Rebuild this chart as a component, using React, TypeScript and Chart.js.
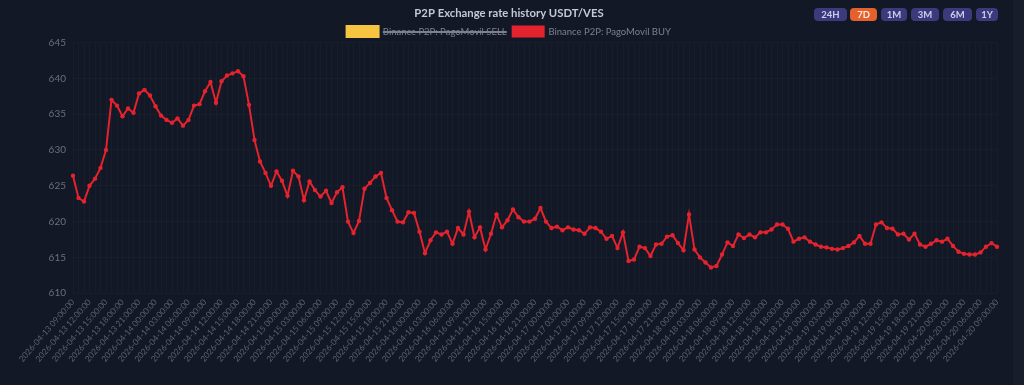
import React, { useEffect, useRef } from "react";
import { Chart, registerables } from "chart.js";

Chart.register(...registerables);

const chartTitle = "P2P Exchange rate history USDT/VES";
const sellLabel = "Binance P2P: PagoMovil SELL";
const buyLabel = "Binance P2P: PagoMovil BUY";
const rangeButtons = ["24H", "7D", "1M", "3M", "6M", "1Y"];
const activeRange = "7D";

const labels = [
  "2026-04-13 09:00:00", "2026-04-13 10:00:00", "2026-04-13 11:00:00", "2026-04-13 12:00:00", "2026-04-13 13:00:00", "2026-04-13 14:00:00", "2026-04-13 15:00:00", "2026-04-13 16:00:00", "2026-04-13 17:00:00", "2026-04-13 18:00:00", "2026-04-13 19:00:00", "2026-04-13 20:00:00", "2026-04-13 21:00:00", "2026-04-13 22:00:00", "2026-04-13 23:00:00",
  "2026-04-14 00:00:00", "2026-04-14 01:00:00", "2026-04-14 02:00:00", "2026-04-14 03:00:00", "2026-04-14 04:00:00", "2026-04-14 05:00:00", "2026-04-14 06:00:00", "2026-04-14 07:00:00", "2026-04-14 08:00:00", "2026-04-14 09:00:00", "2026-04-14 10:00:00", "2026-04-14 11:00:00", "2026-04-14 12:00:00", "2026-04-14 13:00:00", "2026-04-14 14:00:00", "2026-04-14 15:00:00", "2026-04-14 16:00:00", "2026-04-14 17:00:00", "2026-04-14 18:00:00", "2026-04-14 19:00:00", "2026-04-14 20:00:00", "2026-04-14 21:00:00", "2026-04-14 22:00:00", "2026-04-14 23:00:00",
  "2026-04-15 00:00:00", "2026-04-15 01:00:00", "2026-04-15 02:00:00", "2026-04-15 03:00:00", "2026-04-15 04:00:00", "2026-04-15 05:00:00", "2026-04-15 06:00:00", "2026-04-15 07:00:00", "2026-04-15 08:00:00", "2026-04-15 09:00:00", "2026-04-15 10:00:00", "2026-04-15 11:00:00", "2026-04-15 12:00:00", "2026-04-15 13:00:00", "2026-04-15 14:00:00", "2026-04-15 15:00:00", "2026-04-15 16:00:00", "2026-04-15 17:00:00", "2026-04-15 18:00:00", "2026-04-15 19:00:00", "2026-04-15 20:00:00", "2026-04-15 21:00:00", "2026-04-15 22:00:00", "2026-04-15 23:00:00",
  "2026-04-16 00:00:00", "2026-04-16 01:00:00", "2026-04-16 02:00:00", "2026-04-16 03:00:00", "2026-04-16 04:00:00", "2026-04-16 05:00:00", "2026-04-16 06:00:00", "2026-04-16 07:00:00", "2026-04-16 08:00:00", "2026-04-16 09:00:00", "2026-04-16 10:00:00", "2026-04-16 11:00:00", "2026-04-16 12:00:00", "2026-04-16 13:00:00", "2026-04-16 14:00:00", "2026-04-16 15:00:00", "2026-04-16 16:00:00", "2026-04-16 17:00:00", "2026-04-16 18:00:00", "2026-04-16 19:00:00", "2026-04-16 20:00:00", "2026-04-16 21:00:00", "2026-04-16 22:00:00", "2026-04-16 23:00:00",
  "2026-04-17 00:00:00", "2026-04-17 01:00:00", "2026-04-17 02:00:00", "2026-04-17 03:00:00", "2026-04-17 04:00:00", "2026-04-17 05:00:00", "2026-04-17 06:00:00", "2026-04-17 07:00:00", "2026-04-17 08:00:00", "2026-04-17 09:00:00", "2026-04-17 10:00:00", "2026-04-17 11:00:00", "2026-04-17 12:00:00", "2026-04-17 13:00:00", "2026-04-17 14:00:00", "2026-04-17 15:00:00", "2026-04-17 16:00:00", "2026-04-17 17:00:00", "2026-04-17 18:00:00", "2026-04-17 19:00:00", "2026-04-17 20:00:00", "2026-04-17 21:00:00", "2026-04-17 22:00:00", "2026-04-17 23:00:00",
  "2026-04-18 00:00:00", "2026-04-18 01:00:00", "2026-04-18 02:00:00", "2026-04-18 03:00:00", "2026-04-18 04:00:00", "2026-04-18 05:00:00", "2026-04-18 06:00:00", "2026-04-18 07:00:00", "2026-04-18 08:00:00", "2026-04-18 09:00:00", "2026-04-18 10:00:00", "2026-04-18 11:00:00", "2026-04-18 12:00:00", "2026-04-18 13:00:00", "2026-04-18 14:00:00", "2026-04-18 15:00:00", "2026-04-18 16:00:00", "2026-04-18 17:00:00", "2026-04-18 18:00:00", "2026-04-18 19:00:00", "2026-04-18 20:00:00", "2026-04-18 21:00:00", "2026-04-18 22:00:00", "2026-04-18 23:00:00",
  "2026-04-19 00:00:00", "2026-04-19 01:00:00", "2026-04-19 02:00:00", "2026-04-19 03:00:00", "2026-04-19 04:00:00", "2026-04-19 05:00:00", "2026-04-19 06:00:00", "2026-04-19 07:00:00", "2026-04-19 08:00:00", "2026-04-19 09:00:00", "2026-04-19 10:00:00", "2026-04-19 11:00:00", "2026-04-19 12:00:00", "2026-04-19 13:00:00", "2026-04-19 14:00:00", "2026-04-19 15:00:00", "2026-04-19 16:00:00", "2026-04-19 17:00:00", "2026-04-19 18:00:00", "2026-04-19 19:00:00", "2026-04-19 20:00:00", "2026-04-19 21:00:00", "2026-04-19 22:00:00", "2026-04-19 23:00:00",
  "2026-04-20 00:00:00", "2026-04-20 01:00:00", "2026-04-20 02:00:00", "2026-04-20 03:00:00", "2026-04-20 04:00:00", "2026-04-20 05:00:00", "2026-04-20 06:00:00", "2026-04-20 07:00:00", "2026-04-20 08:00:00", "2026-04-20 09:00:00",
];

const buyValues = [
  626.4, 623.3, 622.8, 625.0, 626.0, 627.5, 630.0, 637.0, 636.2, 634.7, 635.8, 635.2, 637.9, 638.4, 637.6,
  636.1, 634.8, 634.2, 633.8, 634.4, 633.4, 634.2, 636.2, 636.4, 638.2, 639.5, 636.6, 639.6, 640.4, 640.7, 641.0, 640.3, 636.3, 631.4, 628.4, 626.8, 625.0, 627.0, 625.7,
  623.6, 627.1, 626.3, 623.0, 625.6, 624.4, 623.5, 624.3, 622.6, 624.1, 624.8, 620.0, 618.4, 620.1, 624.6, 625.4, 626.3, 626.8, 623.3, 621.6, 620.0, 619.9, 621.3, 621.2,
  618.6, 615.6, 617.4, 618.5, 618.2, 618.6, 616.9, 619.1, 618.2, 621.4, 617.8, 619.2, 616.1, 618.3, 621.0, 619.2, 620.2, 621.7, 620.6, 620.0, 620.0, 620.4, 621.9, 620.0,
  619.1, 619.3, 618.8, 619.2, 618.9, 618.8, 618.3, 619.2, 619.1, 618.6, 617.6, 618.0, 616.3, 618.5, 614.5, 614.7, 616.5, 616.3, 615.2, 616.8, 616.9, 617.9, 618.1, 617.0,
  616.0, 621.0, 616.1, 615.0, 614.3, 613.6, 613.8, 615.4, 617.1, 616.6, 618.2, 617.7, 618.2, 617.8, 618.5, 618.5, 618.9, 619.6, 619.6, 619.0, 617.2, 617.6, 617.8, 617.2,
  616.8, 616.5, 616.4, 616.2, 616.1, 616.3, 616.6, 617.1, 618.0, 616.9, 616.9, 619.6, 619.9, 619.1, 619.0, 618.2, 618.3, 617.5, 618.3, 616.8, 616.5, 616.9, 617.4, 617.2,
  617.6, 616.6, 615.8, 615.5, 615.4, 615.4, 615.7, 616.5, 617.0, 616.5,
];

const sellValues: number[] = [];

const yMin = 610;
const yMax = 645;
const yStep = 5;

const BG = "#121826";
const FONT = "Lato, Inter, sans-serif";

export default function App() {
  const canvasRef = useRef<HTMLCanvasElement | null>(null);

  useEffect(() => {
    document.body.style.margin = "0";
    document.body.style.background = BG;
    const canvas = canvasRef.current;
    if (!canvas) return;
    const chart = new Chart(canvas, {
      type: "line",
      data: {
        labels,
        datasets: [
          {
            label: sellLabel,
            data: sellValues,
            borderColor: "#f5c542",
            backgroundColor: "#f5c542",
            hidden: true,
          },
          {
            label: buyLabel,
            data: buyValues,
            borderColor: "#e3232d",
            backgroundColor: "#e3232d",
            borderWidth: 2,
            pointRadius: 2.2,
            pointHoverRadius: 3,
            pointBorderWidth: 0,
            tension: 0,
          },
        ],
      },
      options: {
        responsive: false,
        animation: false,
        maintainAspectRatio: false,
        layout: { padding: { top: 5, right: 6, bottom: 17, left: 0 } },
        plugins: {
          title: {
            display: true,
            text: chartTitle,
            color: "#c6c9d4",
            font: { family: FONT, size: 11.3, weight: "bold" },
            padding: { top: 2, bottom: 0 },
          },
          legend: {
            display: true,
            position: "top",
            maxHeight: 22,
            labels: {
              boxWidth: 31,
              boxHeight: 10,
              padding: 6,
              color: "#7c8190",
              font: { family: FONT, size: 9.5 },
            },
          },
          tooltip: { enabled: false },
        },
        scales: {
          x: {
            grid: { color: "rgba(255,255,255,0.025)", drawTicks: false },
            border: { display: false },
            ticks: {
              autoSkip: false,
              maxRotation: 49,
              minRotation: 49,
              padding: 4,
              color: "#5a6070",
              font: { family: FONT, size: 8.3 },
              callback: (_v: any, idx: number) => (idx % 3 === 0 ? labels[idx] : ""),
            },
          },
          y: {
            min: yMin,
            max: yMax,
            grid: { color: "rgba(255,255,255,0.025)", drawTicks: false },
            border: { display: false },
            afterFit: (s: any) => {
              s.width = 73;
            },
            ticks: {
              stepSize: yStep,
              padding: 7,
              color: "#6a7080",
              font: { family: FONT, size: 10 },
            },
          },
          yRight: {
            position: "right",
            display: true,
            grid: { display: false, drawTicks: false },
            border: { display: false },
            ticks: { display: false },
            afterFit: (s: any) => {
              s.width = 21;
            },
          },
        },
      },
    });
    return () => chart.destroy();
  }, []);

  const btnPos: Record<string, [number, number]> = {
    "24H": [814, 33],
    "7D": [850, 27],
    "1M": [881, 26],
    "3M": [911, 28],
    "6M": [943, 29],
    "1Y": [976, 22],
  };

  return (
    <div style={{ position: "relative", width: 1024, height: 385, background: BG, overflow: "hidden" }}>
      <div style={{ position: "absolute", left: 1013, top: 0, width: 11, height: 385, background: "#171d2b" }} />
      <canvas ref={canvasRef} width={1024} height={385} style={{ position: "absolute", left: 0, top: 0, width: 1024, height: 385 }} />
      {rangeButtons.map((b) => {
        const [left, w] = btnPos[b];
        const active = b === activeRange;
        return (
          <div
            key={b}
            style={{
              position: "absolute",
              left,
              top: 8,
              width: w,
              height: 13,
              lineHeight: "13px",
              borderRadius: 4,
              background: active ? "#e5612b" : "#3c3a7c",
              color: active ? "#fde9df" : "#cfcdee",
              fontFamily: FONT,
              fontWeight: 700,
              fontSize: 9.5,
              textAlign: "center",
            }}
          >
            {b}
          </div>
        );
      })}
    </div>
  );
}
